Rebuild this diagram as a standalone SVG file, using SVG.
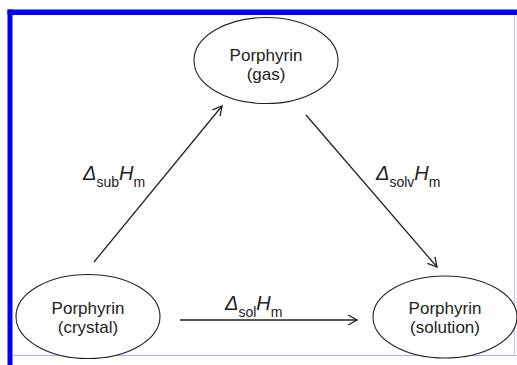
<svg xmlns="http://www.w3.org/2000/svg" width="517" height="365" viewBox="0 0 517 365">
<style>
.node ellipse{fill:#fff;stroke:#222;stroke-width:1.1}
.lbl{font-family:"Liberation Sans",Arial,sans-serif;font-size:17px;fill:#222;text-anchor:middle}
.eq{font-family:"Liberation Sans",Arial,sans-serif;font-size:20px;fill:#222}
.it{font-style:italic}
.sb{font-size:14px}
.conn line{stroke:#222;stroke-width:1.3;fill:none}
</style>
<defs>
<marker id="ah" markerUnits="userSpaceOnUse" markerWidth="12" markerHeight="12" viewBox="0 0 12 12" refX="11" refY="6" orient="auto">
<path d="M2,1 L11,6 L2,11" fill="none" stroke="#222" stroke-width="1.3"/>
</marker>
</defs>
<rect width="517" height="365" fill="#fff"/>
<g id="frame">
<rect x="7.5" y="9.5" width="509.5" height="5.5" fill="#0000ff"/>
<rect x="7.5" y="9.5" width="5" height="355.5" fill="#0000ff"/>
<line x1="12.5" y1="355.5" x2="517" y2="355.5" stroke="#a8a8ff" stroke-width="1.2"/>
<line x1="514.5" y1="15" x2="514.5" y2="356" stroke="#c8c8ff" stroke-width="1.2"/>
</g>
<g id="gas" class="node">
<ellipse cx="266" cy="60.5" rx="72" ry="43"/>
<text class="lbl" x="266" y="61">Porphyrin</text>
<text class="lbl" x="266" y="80">(gas)</text>
</g>
<g id="crystal" class="node">
<ellipse cx="88" cy="316.5" rx="72" ry="42"/>
<text class="lbl" x="88" y="314">Porphyrin</text>
<text class="lbl" x="88" y="333">(crystal)</text>
</g>
<g id="solution" class="node">
<ellipse cx="445" cy="317" rx="72" ry="41"/>
<text class="lbl" x="445" y="314">Porphyrin</text>
<text class="lbl" x="445" y="333">(solution)</text>
</g>
<g id="connectors" class="conn">
<line x1="94" y1="262" x2="222" y2="106" marker-end="url(#ah)"/>
<line x1="306" y1="115" x2="437" y2="267" marker-end="url(#ah)"/>
<line x1="180" y1="320" x2="357" y2="320" marker-end="url(#ah)"/>
</g>
<g id="labels">
<text class="eq" x="83" y="180"><tspan class="it">Δ</tspan><tspan class="sb" dy="7">sub</tspan><tspan class="it" dy="-7">H</tspan><tspan class="sb" dy="7">m</tspan></text>
<text class="eq" x="376" y="180"><tspan class="it">Δ</tspan><tspan class="sb" dy="7">solv</tspan><tspan class="it" dy="-7">H</tspan><tspan class="sb" dy="7">m</tspan></text>
<text class="eq" x="225" y="310"><tspan class="it">Δ</tspan><tspan class="sb" dy="7">sol</tspan><tspan class="it" dy="-7">H</tspan><tspan class="sb" dy="7">m</tspan></text>
</g>
</svg>
